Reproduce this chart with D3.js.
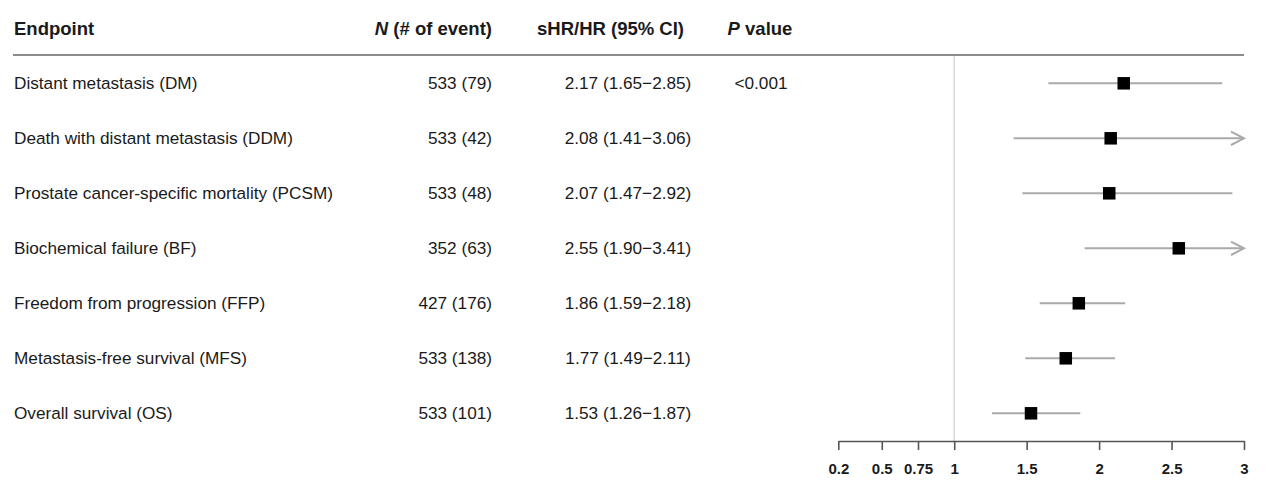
<!DOCTYPE html>
<html>
<head>
<meta charset="utf-8">
<script src="https://cdn.jsdelivr.net/npm/d3@7"></script>
<style>
  html, body { margin: 0; padding: 0; background: #fff; }
  svg { display: block; font-family: "Liberation Sans", Arial, Helvetica, sans-serif; }
</style>
</head>
<body>
<svg id="chart" width="1266" height="493"></svg>
<script>
// ---- data ----
const endpoints = [
  "Distant metastasis (DM)",
  "Death with distant metastasis (DDM)",
  "Prostate cancer-specific mortality (PCSM)",
  "Biochemical failure (BF)",
  "Freedom from progression (FFP)",
  "Metastasis-free survival (MFS)",
  "Overall survival (OS)"
];
const nEvents = ["533 (79)", "533 (42)", "533 (48)", "352 (63)", "427 (176)", "533 (138)", "533 (101)"];
const hr    = [2.17, 2.08, 2.07, 2.55, 1.86, 1.77, 1.53];
const lower = [1.65, 1.41, 1.47, 1.90, 1.59, 1.49, 1.26];
const upper = [2.85, 3.06, 2.92, 3.41, 2.18, 2.11, 1.87];
const pValues = ["<0.001", "", "", "", "", "", ""];
const tickValues = [0.2, 0.5, 0.75, 1, 1.5, 2, 2.5, 3];
const tickLabels = ["0.2", "0.5", "0.75", "1", "1.5", "2", "2.5", "3"];

// ---- layout ----
const svg = d3.select("#chart");
const x = d3.scaleLinear().domain([0.2, 3]).range([838.3, 1244]);
const y = d3.scalePoint().domain(d3.range(endpoints.length)).range([83.3, 413.3]);
const axisY = 441;
const headerY = 35;
const textColor = "#1a1a1a";

// header
const hdr = svg.append("g").attr("font-weight", "bold").attr("font-size", 18.5).attr("fill", textColor);
hdr.append("text").attr("x", 14).attr("y", headerY).text("Endpoint");
const nh = hdr.append("text").attr("x", 492).attr("y", headerY).attr("text-anchor", "end");
nh.append("tspan").attr("font-style", "italic").text("N");
nh.append("tspan").text(" (# of event)");
hdr.append("text").attr("x", 537).attr("y", headerY).text("sHR/HR (95% CI)");
const ph = hdr.append("text").attr("x", 760).attr("y", headerY).attr("text-anchor", "middle");
ph.append("tspan").attr("font-style", "italic").text("P");
ph.append("tspan").text(" value");

// header rule
svg.append("line").attr("x1", 13).attr("x2", 1244).attr("y1", 55).attr("y2", 55)
  .attr("stroke", "#8c8c8c").attr("stroke-width", 2);

// reference line at 1
svg.append("line").attr("x1", x(1)).attr("x2", x(1)).attr("y1", 56).attr("y2", axisY)
  .attr("stroke", "#cfcfcf").attr("stroke-width", 1.2);

// table rows
const rows = svg.append("g").attr("font-size", 17.2).attr("fill", textColor);
endpoints.forEach((d, i) => {
  const cy = y(i) + 6;
  rows.append("text").attr("x", 14).attr("y", cy).text(d);
  rows.append("text").attr("x", 492).attr("y", cy).attr("text-anchor", "end").text(nEvents[i]);
  rows.append("text").attr("x", 628).attr("y", cy).attr("text-anchor", "middle")
    .text(`${hr[i].toFixed(2)} (${lower[i].toFixed(2)}\u2212${upper[i].toFixed(2)})`);
  if (pValues[i]) rows.append("text").attr("x", 761).attr("y", cy).attr("text-anchor", "middle").text(pValues[i]);
});

// CI lines & boxes
const xmax = x.domain()[1];
const g = svg.append("g");
endpoints.forEach((d, i) => {
  const cy = y(i);
  const hi = Math.min(upper[i], xmax);
  g.append("line").attr("x1", x(lower[i])).attr("x2", x(hi)).attr("y1", cy).attr("y2", cy)
    .attr("stroke", "#aaaaaa").attr("stroke-width", 2);
  if (upper[i] > xmax) {
    const tx = x(xmax);
    g.append("path").attr("d", `M${tx - 13},${cy - 6.7}L${tx},${cy}L${tx - 13},${cy + 6.7}`)
      .attr("fill", "none").attr("stroke", "#aaaaaa").attr("stroke-width", 2);
  }
  const s = 12.5;
  g.append("rect").attr("x", x(hr[i]) - s / 2).attr("y", cy - s / 2).attr("width", s).attr("height", s)
    .attr("fill", "#000");
});

// axis
const axis = d3.axisBottom(x).tickValues(tickValues).tickFormat((d, i) => tickLabels[i])
  .tickSize(9).tickSizeOuter(0);
const ag = svg.append("g").attr("transform", `translate(0,${axisY})`).call(axis);
ag.select(".domain").attr("stroke", "#555").attr("stroke-width", 1.6);
ag.selectAll(".tick line").attr("stroke", "#555").attr("stroke-width", 1.6);
ag.selectAll(".tick text").attr("y", 32.5).attr("dy", null)
  .attr("font-size", 15).attr("font-weight", "bold").attr("fill", textColor)
  .attr("font-family", "'Liberation Sans', Arial, sans-serif");
</script>
</body>
</html>
